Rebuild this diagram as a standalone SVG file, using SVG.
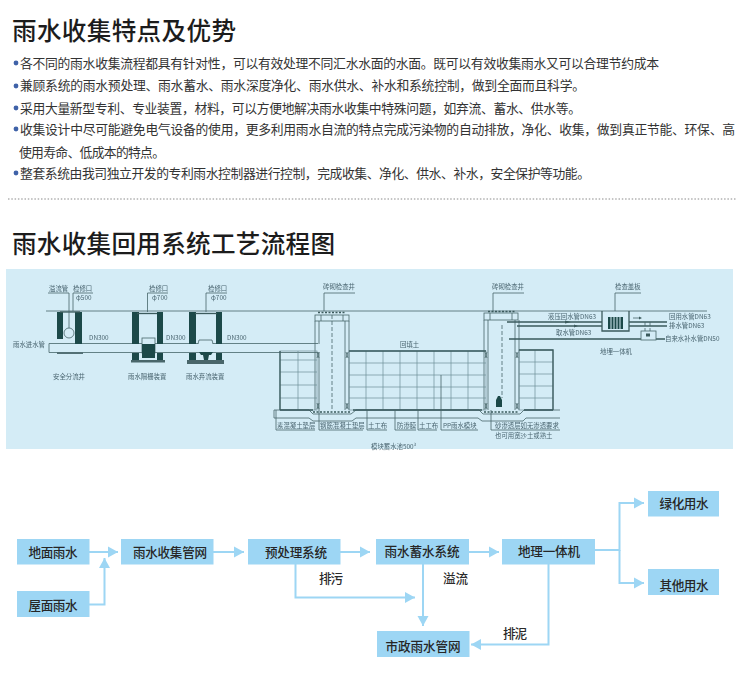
<svg xmlns="http://www.w3.org/2000/svg" width="750" height="680" viewBox="0 0 750 680">
<style>
text{font-family:"Noto Sans CJK SC","Noto Sans",sans-serif}
.h{font-size:24.6px;font-weight:500;fill:#1c1c1c}
.b{font-size:12.8px;fill:#333}
.dot{fill:#3f62a8}
.n{fill:#9dd6f4}
.nt{font-size:12.6px;font-weight:500;fill:#262626;text-anchor:middle}
.lb{font-size:12.6px;font-weight:500;fill:#2a2a2a}
.c{fill:none;stroke:#9dd6f4;stroke-width:2}
.s{font-size:6.4px;fill:#4a6570}
.l{fill:none;stroke:#48666a;stroke-width:.8}
.t{fill:none;stroke:#3a5a5c;stroke-width:1.3}
.g{fill:none;stroke:#6f8f98;stroke-width:.7}
.d{fill:#1f4a48}
.e{fill:none;stroke:#48666a;stroke-width:.8;stroke-dasharray:4 2}
.p{fill:#d4ecf6;stroke:#48666a;stroke-width:.8}
</style>
<defs>
<marker id="ah" markerUnits="userSpaceOnUse" markerWidth="11" markerHeight="12" refX="10" refY="6" orient="auto"><path d="M0 .5L10 6L0 11.500z" fill="#9dd6f4"/></marker>
<filter id="soft" x="0" y="0" width="1" height="1"><feGaussianBlur stdDeviation=".3"/></filter>
</defs>
<rect width="750" height="680" fill="#fff"/>

<g id="intro">
<text class="h" x="12" y="40" textLength="224">雨水收集特点及优势</text>
<circle class="dot" cx="16" cy="63" r="2.4"/><text class="b" x="20" y="68" textLength="639">各不同的雨水收集流程都具有针对性，可以有效处理不同汇水水面的水面。既可以有效收集雨水又可以合理节约成本</text>
<circle class="dot" cx="16" cy="86" r="2.4"/><text class="b" x="20" y="90" textLength="565">兼顾系统的雨水预处理、雨水蓄水、雨水深度净化、雨水供水、补水和系统控制，做到全面而且科学。</text>
<circle class="dot" cx="16" cy="108" r="2.4"/><text class="b" x="20" y="112.500" textLength="561">采用大量新型专利、专业装置，材料，可以方便地解决雨水收集中特殊问题，如弃流、蓄水、供水等。</text>
<circle class="dot" cx="16" cy="129" r="2.4"/><text class="b" x="20" y="134" textLength="715">收集设计中尽可能避免电气设备的使用，更多利用雨水自流的特点完成污染物的自动排放，净化、收集，做到真正节能、环保、高</text>
<text class="b" x="19" y="157" textLength="146">使用寿命、低成本的特点。</text>
<circle class="dot" cx="16" cy="173" r="2.4"/><text class="b" x="20" y="178" textLength="570">整套系统由我司独立开发的专利雨水控制器进行控制，完成收集、净化、供水、补水，安全保护等功能。</text>
<line x1="8" y1="199" x2="736" y2="199" stroke="#8a8a8a" stroke-width="1" stroke-dasharray="1.500 1.800"/>
<text class="h" x="12" y="253" textLength="323">雨水收集回用系统工艺流程图</text>
</g>

<g id="section" filter="url(#soft)">
<rect x="6" y="269" width="727" height="180" fill="#d4ecf6"/>
<path class="l" d="M46 311H707"/>
<path class="l" d="M49 343.500H318M49 352.500H318M49 343.500V352.500"/>
<g>
<rect class="d" x="57" y="312" width="6" height="27"/><rect class="d" x="75" y="312" width="7" height="32"/>
<circle class="p" cx="69" cy="333" r="5"/>
<path class="t" d="M60 312H80"/>
<path class="l" d="M57 353.500H83M69 293V328"/>
<path d="M57 352h26v2H57z" fill="#48666a" opacity=".6"/>
</g>
<g>
<rect class="d" x="132" y="312" width="7" height="32"/><rect class="d" x="157" y="312" width="6" height="32"/>
<rect class="d" x="132" y="353" width="7" height="7"/><rect class="d" x="157" y="353" width="6" height="7"/>
<path class="t" d="M137 313.500H157"/>
<rect class="p" x="142" y="338" width="13" height="15"/>
<rect class="d" x="142" y="344" width="13" height="14"/>
<path d="M131 360h34v2.500H131z" fill="#48666a"/>
</g>
<g>
<rect class="d" x="189" y="312" width="7" height="32"/><rect class="d" x="216" y="312" width="6" height="32"/>
<rect class="d" x="189" y="353" width="7" height="7"/><rect class="d" x="216" y="353" width="6" height="7"/>
<path class="t" d="M195 313.500H217"/>
<path class="p" d="M198 344L199 340H212L213 344"/>
<path class="d" d="M199 352h14l-2 3h-2l-1 5h-4l-1-5h-2z"/>
<path d="M187 360h37v4H187z" fill="#48666a"/>
</g>
<g>
<path class="l" d="M315 321V410M319 321V344M319 352V410M345 321V410M349 321V410"/>
<rect class="p" x="315" y="315" width="34" height="6"/>
<path class="l" d="M321 315V321M343 315V321"/>
<path class="t" stroke-dasharray="2 1.500" d="M318 312.500H345"/>
<path class="e" d="M332 315V410"/>
<rect x="319" y="344.500" width="2" height="7.500" fill="#d4ecf6"/>
</g>
<g>
<path class="l" d="M484 320V410M488 320V410M515 320V410M519 320V410"/>
<rect class="p" x="484" y="313" width="34" height="7"/>
<path class="l" d="M490 313V320M512 313V320"/>
<path class="t" stroke-dasharray="2 1.500" d="M488 311.500H515"/>
<path class="e" d="M502 325V398"/>
<path class="d" d="M496 407V400L498 396H500L502 400V407z"/>
</g>
<g>
<rect class="g" x="280" y="351" width="37" height="59"/>
<path class="g" d="M298 351V410M280 360H317M280 372H317M280 385H317M280 398H317"/>
<path class="t" d="M280 351V410"/>
<rect class="g" x="349" y="351" width="137" height="59"/>
<path class="g" d="M366 351V410M383 351V410M400 351V410M417 351V410M434 351V410M451 351V410M468 351V410M349 363H486M349 375H486M349 387H486M349 398H486"/>
<path class="t" d="M349 351H486"/>
<rect class="g" x="519" y="350" width="34" height="60"/>
<path class="g" d="M535 350V410M519 362H553M519 374H553M519 386H553M519 398H553"/>
<path class="t" d="M519 350H553V410"/>
<path class="l" d="M317 352L319 358M319 352L317 358M346 352L348 358M348 352L346 358M317 403L319 409M319 403L317 409M346 403L348 409M348 403L346 409M485 352L487 358M487 352L485 358M516 352L518 358M518 352L516 358M485 403L487 409M487 403L485 409M516 403L518 409M518 403L516 409"/>
</g>
<g>
<path class="l" d="M274 410H309L313 414H351L356 410H479L483 414H520L524 410H560"/>
<path class="t" d="M280 410H309L313 410M353 410H482M524 410H553"/>
<path class="l" d="M274 418H309L313 421H352L356 418H478L482 421H523L526 418H560M274 410V418"/>
<path class="t" stroke-dasharray="2 1.500" d="M313 412H351M484 412H519"/>
<path class="l" d="M276 430H315M276 410V430M319 430H363M319 410V430M367 430H387M367 410V430M395 430H416M395 410V430M418 430H437M418 410V430M441 430H478M441 375V430M491 430H560M491 410V430"/>
</g>
<path class="l" d="M73 293H93M73 293V311M48 293H69M147.500 293H168M147.500 293V312M206 293H227M206 293V312M324 293H355M324 293V311M493 293H524M493 293V311M615 293H641M615 293V311"/>
<g>
<path class="t" d="M602 311V331H629V311"/>
<rect class="d" x="608" y="317" width="15" height="12"/>
<path stroke="#d4ecf6" stroke-width="1" d="M611 317V329M614 317V329M617 317V329M620 317V329"/>
<path class="t" d="M507 322H602M629 322H667M517 326H602M629 326H667"/>
<path class="t" d="M509 339H641M656 339H665"/>
<rect class="p" x="641" y="331" width="15" height="9"/>
<path class="e" d="M645 322V331M650 322V331"/>
<path class="l" d="M633 318H639"/>
<path d="M565 320.500L571 322L565 323.500zM574 324.500L578 326L574 327.500zM639 316.500L642 318L639 319.500zM646 333.500h4v3h-4z" fill="#3a5a5c"/>
</g>
<g>
<text class="s" x="49" y="291">溢流管</text><text class="s" x="73" y="291">检修口</text><text class="s" x="76" y="300">φ500</text>
<text class="s" x="149" y="291">检修口</text><text class="s" x="152" y="300">φ700</text>
<text class="s" x="208" y="291">检修口</text><text class="s" x="211" y="300">φ700</text>
<text class="s" x="89" y="340">DN300</text><text class="s" x="166" y="340">DN300</text><text class="s" x="227" y="340">DN300</text>
<text class="s" x="13" y="347">雨水进水管</text>
<text class="s" x="53" y="379">安全分流井</text><text class="s" x="128" y="379">雨水隔栅装置</text><text class="s" x="186" y="379">雨水弃流装置</text>
<text class="s" x="323" y="289">砖砌检查井</text><text class="s" x="492" y="289">砖砌检查井</text><text class="s" x="615" y="289">检查盖板</text>
<text class="s" x="400" y="347">回填土</text>
<text class="s" x="277" y="427.500">素混凝土垫层</text><text class="s" x="320" y="427.500">钢筋混凝土垫层</text><text class="s" x="368" y="427.500">土工布</text><text class="s" x="397" y="427.500">防渗膜</text><text class="s" x="419" y="427.500">土工布</text><text class="s" x="443" y="427.500">PP雨水模块</text>
<text class="s" x="495" y="427.500">砂渗透层如无渗透要求</text><text class="s" x="495" y="438">也可用宽沙土或熟土</text>
<text class="s" x="371" y="449">模块蓄水池500³</text>
<text class="s" x="548" y="319">液压回水管DN63</text><text class="s" x="556" y="335">取水管DN63</text>
<text class="s" x="669" y="319">回用水管DN63</text><text class="s" x="669" y="328">排水管DN63</text><text class="s" x="665" y="341">自来水补水管DN50</text>
<text class="s" x="600" y="354">地埋一体机</text>
</g>
</g>

<g id="connectors">
<path class="c" marker-end="url(#ah)" d="M89 552H118"/>
<path class="c" marker-end="url(#ah)" d="M89 604.500H104.500V558"/>
<path class="c" marker-end="url(#ah)" d="M213 552H244"/>
<path class="c" marker-end="url(#ah)" d="M340 552H370"/>
<path class="c" marker-end="url(#ah)" d="M469 552H499"/>
<path class="c" marker-end="url(#ah)" d="M295.500 564V597.500H415"/>
<path class="c" marker-end="url(#ah)" d="M423 564V626"/>
<path class="c" marker-end="url(#ah)" d="M595 550H619.500V503H644"/>
<path class="c" marker-end="url(#ah)" d="M619.500 550V583H644"/>
<path class="c" marker-end="url(#ah)" d="M548.500 564V644.500H471"/>
</g>
<g id="n1"><rect class="n" x="17" y="539" width="72.500" height="25.500"/><text class="nt" x="53" y="557" textLength="49">地面雨水</text></g>
<g id="n2"><rect class="n" x="17" y="591" width="72.500" height="26"/><text class="nt" x="53" y="610" textLength="49">屋面雨水</text></g>
<g id="n3"><rect class="n" x="121" y="539" width="92.500" height="25.500"/><text class="nt" x="170" y="557" textLength="74">雨水收集管网</text></g>
<g id="n4"><rect class="n" x="248" y="539" width="92.500" height="25.500"/><text class="nt" x="296" y="557" textLength="62">预处理系统</text></g>
<g id="n5"><rect class="n" x="376" y="539" width="93" height="25.500"/><text class="nt" x="422" y="555.500" textLength="75">雨水蓄水系统</text></g>
<g id="n6"><rect class="n" x="502" y="539" width="93" height="25.500"/><text class="nt" x="549" y="555.500" textLength="62">地理一体机</text></g>
<g id="n7"><rect class="n" x="648" y="491" width="71" height="25.500"/><text class="nt" x="684" y="508" textLength="49">绿化用水</text></g>
<g id="n8"><rect class="n" x="648" y="569" width="71" height="26"/><text class="nt" x="684" y="590" textLength="49">其他用水</text></g>
<g id="n9"><rect class="n" x="377" y="631" width="92.500" height="26"/><text class="nt" x="423" y="651" textLength="75">市政雨水管网</text></g>
<g id="edge-labels">
<text class="lb" x="319" y="582.500" textLength="24">排污</text>
<text class="lb" x="443" y="582.500" textLength="25">溢流</text>
<text class="lb" x="503" y="637.500" textLength="24">排泥</text>
</g>
</svg>
